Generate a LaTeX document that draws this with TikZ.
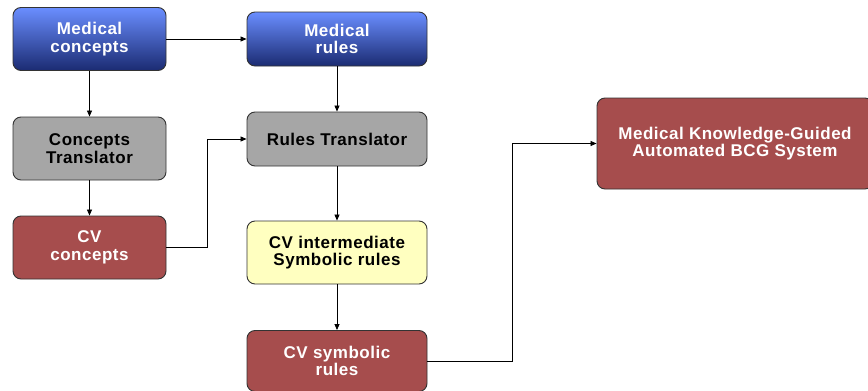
\documentclass[tikz,border=0pt]{standalone}
\usepackage{fontspec}
\setmainfont{Liberation Sans}[LetterSpace=3]
\usetikzlibrary{arrows.meta}
\definecolor{bluetop}{HTML}{6A8EFF}
\definecolor{bluebot}{HTML}{1B2B72}
\definecolor{greyfill}{HTML}{A6A6A6}
\definecolor{redfill}{HTML}{A64D4D}
\definecolor{yellowfill}{HTML}{FFFFC0}
\definecolor{edge}{HTML}{333333}
\tikzset{
  box/.style={draw=edge, line width=0.9pt, rounded corners=8pt, align=center,
    font=\fontsize{17}{17.5}\selectfont\bfseries, inner sep=0pt},
  bluebox/.style={box, top color=bluetop, bottom color=bluebot, text=white},
  greybox/.style={box, fill=greyfill, text=black},
  redbox/.style={box, fill=redfill, text=white},
  yellowbox/.style={box, fill=yellowfill, text=black},
  conn/.style={draw=black, line width=0.8pt, -{Triangle[length=6pt,width=5pt]}},
}
\begin{document}
\begin{tikzpicture}[x=1pt,y=-1pt]
\useasboundingbox (0,0) rectangle (868,391);
\begin{scope}
\clip (0,0) rectangle (868,391);
\node[bluebox, minimum width=153pt, minimum height=63pt] (mc) at (89.5,39) {Medical\\concepts};
\node[bluebox, minimum width=180pt, minimum height=54pt] (mr) at (337,39) {Medical\\rules};
\node[greybox, minimum width=153pt, minimum height=63pt] (ct) at (89.5,148.5) {Concepts\\Translator};
\node[greybox, minimum width=180pt, minimum height=54pt] (rt) at (337,139) {Rules Translator};
\node[redbox, minimum width=153pt, minimum height=63pt] (cvc) at (89.5,247.5) {CV\\concepts};
\node[yellowbox, minimum width=180pt, minimum height=63pt] (cvi) at (337,252.5) {CV intermediate\\Symbolic rules};
\node[redbox, minimum width=180pt, minimum height=61pt] (cvs) at (337,361) {CV symbolic\\rules};
\node[redbox, minimum width=276pt, minimum height=91pt] (mk) at (735,143.5) {Medical Knowledge-Guided\\Automated BCG System};
\end{scope}
\draw[conn] (mc.east) -- (mr.west);
\draw[conn] (mc.south) -- (ct.north);
\draw[conn] (ct.south) -- (cvc.north);
\draw[conn] (cvc.east) -- (207,247.5) |- (rt.west);
\draw[conn] (mr.south) -- (rt.north);
\draw[conn] (rt.south) -- (cvi.north);
\draw[conn] (cvi.south) -- (cvs.north);
\draw[conn] (cvs.east) -- (512,361) |- (mk.west);
\end{tikzpicture}
\end{document}
